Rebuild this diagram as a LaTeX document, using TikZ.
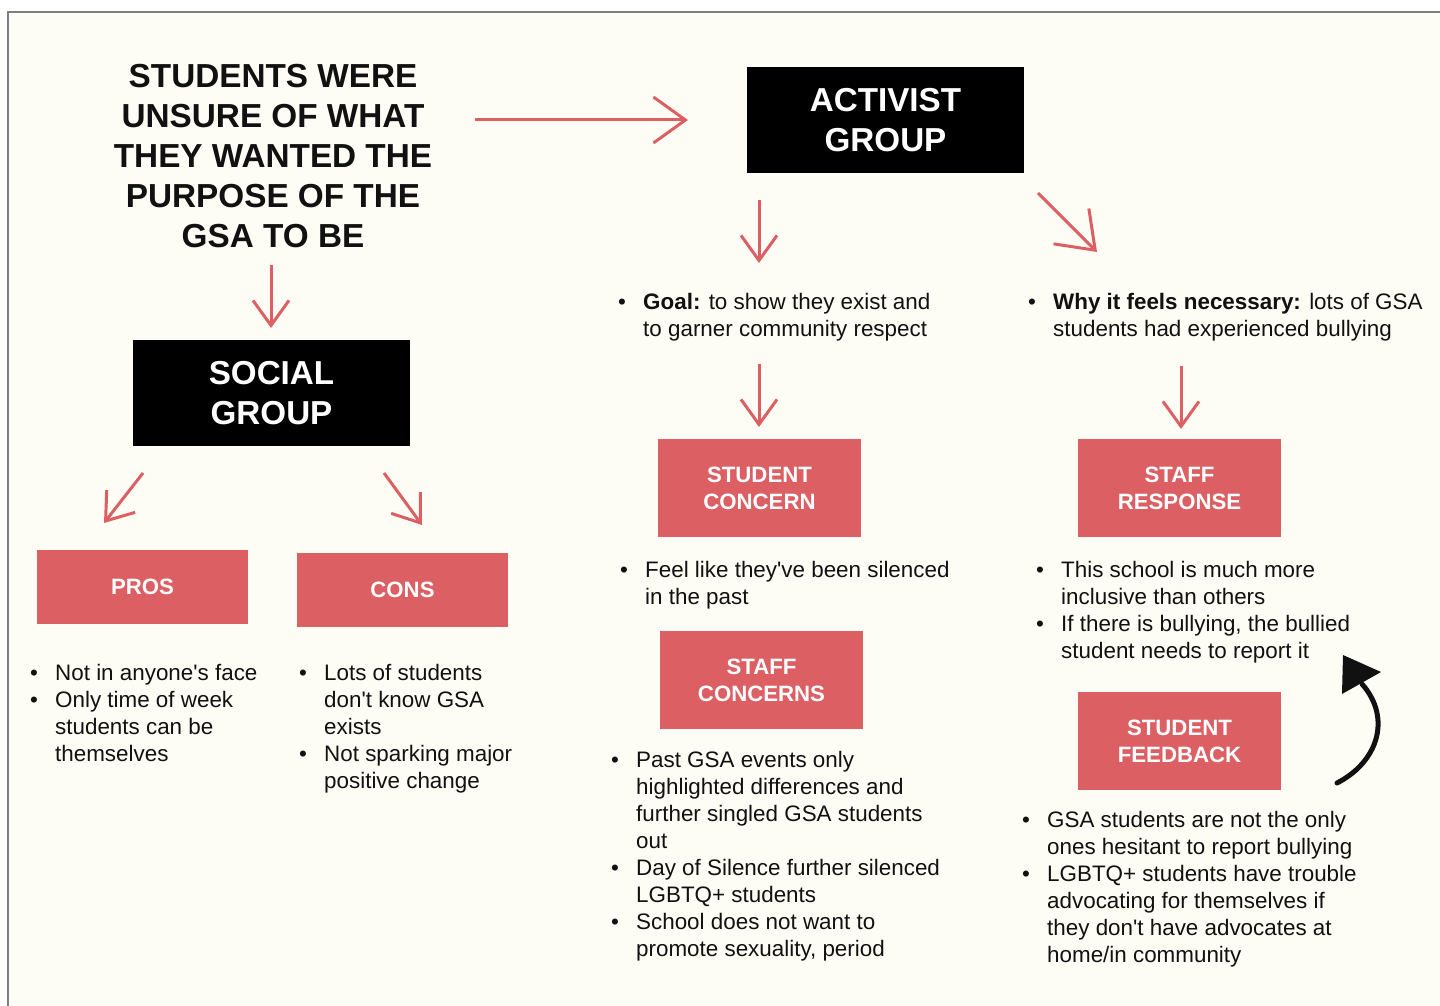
\documentclass[tikz,border=0pt]{standalone}
\usepackage{fontspec}
\setmainfont{Liberation Sans}
\usetikzlibrary{arrows.meta}
\definecolor{cream}{HTML}{FEFDF5}
\definecolor{gsared}{HTML}{DB5F63}
\definecolor{frame}{HTML}{7F7F7F}
\definecolor{ink}{HTML}{111111}
\newcommand{\bul}{\makebox[25pt][l]{•}}
\newcommand{\ind}{\hspace*{25pt}}
\newcommand{\q}{\textquotesingle}
\begin{document}
\begin{tikzpicture}[x=1pt,y=-1pt,
  blackbox/.style={fill=black, text=white, inner sep=0, align=center,
    font=\fontsize{33.2}{40}\selectfont\bfseries, minimum width=277, minimum height=106},
  redbox/.style={fill=gsared, text=white, inner sep=0, align=center,
    font=\fontsize{22.2}{27}\selectfont\bfseries, minimum width=203, minimum height=98},
  listtext/.style={anchor=base west, inner sep=0, text=ink,
    font=\fontsize{22.4}{27}\selectfont},
  arr/.style={draw=gsared, line width=3pt, -{Straight Barb[length=25pt,width=36pt]}},
  bigarr/.style={draw=gsared, line width=3pt, -{Straight Barb[length=32pt,width=46pt]}},
  diagarr/.style={draw=gsared, line width=3pt, -{Straight Barb[length=34pt,width=50pt]}}
]
\useasboundingbox (0,0) rectangle (1440,1006);
\fill[white] (0,0) rectangle (1440,1006);
\fill[cream] (8,12) rectangle (1445,1012);
\draw[frame, line width=2.5pt] (8,1012) -- (8,12) -- (1445,12);

% title
\node[inner sep=0, align=center, text=ink, font=\fontsize{33.3}{40}\selectfont\bfseries] (title) at (273,156)
  {STUDENTS WERE\\UNSURE OF WHAT\\THEY WANTED THE\\PURPOSE OF THE\\GSA TO BE};

% main boxes
\node[blackbox] (activist) at (885.5,120) {ACTIVIST\\GROUP};
\node[blackbox] (social) at (271.5,393) {SOCIAL\\GROUP};
\node[redbox, minimum width=211, minimum height=74] (pros) at (142.5,587) {PROS};
\node[redbox, minimum width=211, minimum height=74] (cons) at (402.5,590) {CONS};
\node[redbox] (stconcern) at (759.5,488) {STUDENT\\CONCERN};
\node[redbox] (sfconcerns) at (761.5,680) {STAFF\\CONCERNS};
\node[redbox] (sfresponse) at (1179.5,488) {STAFF\\RESPONSE};
\node[redbox] (stfeedback) at (1179.5,741) {STUDENT\\FEEDBACK};

% lists
\node[listtext] (proslist) at (30,680) {\begin{tabular}[t]{@{}l@{}}
\bul Not in anyone\q s face\\
\bul Only time of week\\
\ind students can be\\
\ind themselves
\end{tabular}};
\node[listtext] (conslist) at (299,680) {\begin{tabular}[t]{@{}l@{}}
\bul Lots of students\\
\ind don\q t know GSA\\
\ind exists\\
\bul Not sparking major\\
\ind positive change
\end{tabular}};
\node[listtext] (goal) at (618,309) {\begin{tabular}[t]{@{}l@{}}
\bul \textbf{Goal:} to show they exist and\\
\ind to garner community respect
\end{tabular}};
\node[listtext] (why) at (1028,309) {\begin{tabular}[t]{@{}l@{}}
\bul \textbf{Why it feels necessary:} lots of GSA\\
\ind students had experienced bullying
\end{tabular}};
\node[listtext] (stconcernlist) at (620,577) {\begin{tabular}[t]{@{}l@{}}
\bul Feel like they\q ve been silenced\\
\ind in the past
\end{tabular}};
\node[listtext] (sfconcernslist) at (611,767) {\begin{tabular}[t]{@{}l@{}}
\bul Past GSA events only\\
\ind highlighted differences and\\
\ind further singled GSA students\\
\ind out\\
\bul Day of Silence further silenced\\
\ind LGBTQ+ students\\
\bul School does not want to\\
\ind promote sexuality, period
\end{tabular}};
\node[listtext] (sfresponselist) at (1036,577) {\begin{tabular}[t]{@{}l@{}}
\bul This school is much more\\
\ind inclusive than others\\
\bul If there is bullying, the bullied\\
\ind student needs to report it
\end{tabular}};
\node[listtext] (stfeedbacklist) at (1022,827) {\begin{tabular}[t]{@{}l@{}}
\bul GSA students are not the only\\
\ind ones hesitant to report bullying\\
\bul LGBTQ+ students have trouble\\
\ind advocating for themselves if\\
\ind they don\q t have advocates at\\
\ind home/in community
\end{tabular}};

% arrow end points
\coordinate (t2a-s) at (475,120);  \coordinate (t2a-e) at (688,120);
\coordinate (t2s-s) at (271,265);  \coordinate (t2s-e) at (271,328);
\coordinate (a2g-s) at (759,200);  \coordinate (a2g-e) at (759,263);
\coordinate (a2w-s) at (1038,193); \coordinate (a2w-e) at (1097,252);
\coordinate (g2c-s) at (759,364);  \coordinate (g2c-e) at (759,427);
\coordinate (w2r-s) at (1181,366); \coordinate (w2r-e) at (1181,429);
\coordinate (s2p-s) at (143,473);  \coordinate (s2p-e) at (104,523);
\coordinate (s2c-s) at (384,473);  \coordinate (s2c-e) at (422,525);

\draw[bigarr] (t2a-s) -- (t2a-e);
\draw[arr] (t2s-s) -- (t2s-e);
\draw[arr] (a2g-s) -- (a2g-e);
\draw[diagarr] (a2w-s) -- (a2w-e);
\draw[arr] (g2c-s) -- (g2c-e);
\draw[arr] (w2r-s) -- (w2r-e);
\draw[arr] (s2p-s) -- (s2p-e);
\draw[arr] (s2c-s) -- (s2c-e);

% black curved arrow
\coordinate (cv-s) at (1337,783);
\coordinate (cv-e) at (1362,684);
\coordinate (hd-tip) at (1343,655);
\coordinate (hd-a) at (1381,672);
\coordinate (hd-b) at (1342,694);
\draw[ink, line width=5pt, line cap=round] (cv-s) .. controls (1378,762) and (1392,718) .. (cv-e);
\fill[ink] (hd-tip) -- (hd-a) -- (hd-b) -- cycle;
\end{tikzpicture}
\end{document}
